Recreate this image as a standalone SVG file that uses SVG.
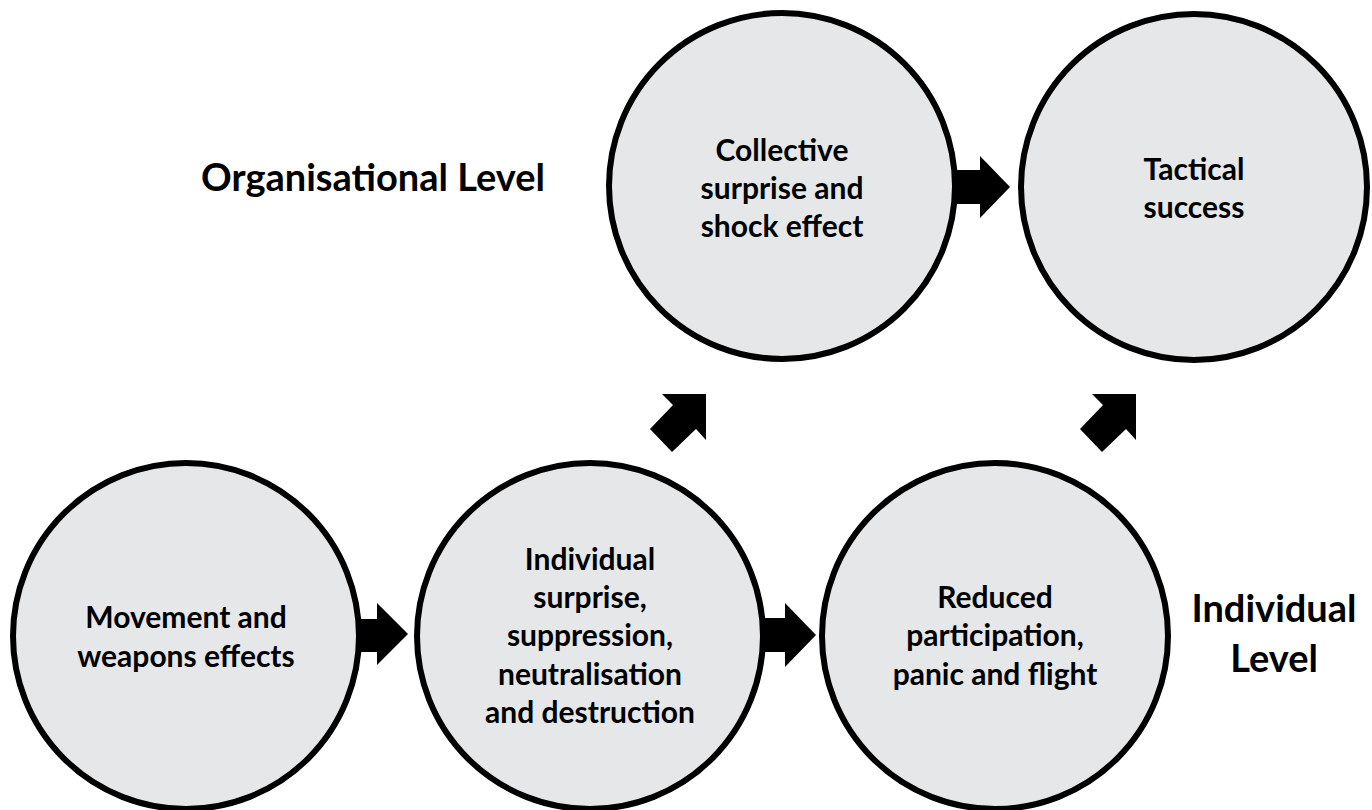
<svg xmlns="http://www.w3.org/2000/svg" width="1372" height="810" viewBox="0 0 1372 810">
  <style>
    .node circle { fill: #e6e7e8; stroke: #000; stroke-width: 6; }
    .node text, .label { font-family: Lato, "Open Sans", "Liberation Sans", sans-serif; font-weight: 700; fill: #000; text-anchor: middle; }
    .node text { font-size: 30px; }
    .label { font-size: 38px; }
    .arrow { fill: #000; }
  </style>
  <rect width="1372" height="810" fill="#fff"/>

  <!-- block arrows between stages -->
  <g id="connectors">
    <polygon class="arrow" points="350,619 377,619 377,603 408,634 377,665 377,652 350,652"/>
    <polygon class="arrow" points="750,618 785,618 785,603 816,635 785,667 785,652 750,652"/>
    <polygon class="arrow" points="950,170 980,170 980,156 1010,187 980,218 980,204 950,204"/>
    <polygon class="arrow" points="706,394 706,440 696,429 672,452 650,429 673,405 662,394"/>
    <polygon class="arrow" points="1136,394 1136,440 1126,429 1102,452 1080,429 1103,405 1092,394"/>
  </g>

  <g id="node-movement" class="node">
    <circle cx="186" cy="636" r="173"/>
    <text x="186" y="628">Movement and</text>
    <text x="186" y="667">weapons effects</text>
  </g>

  <g id="node-individual-effects" class="node">
    <circle cx="590" cy="636" r="173"/>
    <text x="590" y="570">Individual</text>
    <text x="590" y="608">surprise,</text>
    <text x="590" y="646">suppression,</text>
    <text x="590" y="685">neutralisation</text>
    <text x="590" y="723">and destruction</text>
  </g>

  <g id="node-reduced-participation" class="node">
    <circle cx="995" cy="636" r="173"/>
    <text x="995" y="608">Reduced</text>
    <text x="995" y="646">participation,</text>
    <text x="995" y="685">panic and flight</text>
  </g>

  <g id="node-collective-shock" class="node">
    <circle cx="782" cy="186" r="173"/>
    <text x="782" y="161">Collective</text>
    <text x="782" y="199">surprise and</text>
    <text x="782" y="237">shock effect</text>
  </g>

  <g id="node-tactical-success" class="node">
    <circle cx="1194" cy="187" r="173"/>
    <text x="1194" y="180">Tactical</text>
    <text x="1194" y="218">success</text>
  </g>

  <!-- level captions -->
  <g id="levels">
    <text class="label" x="373" y="191">Organisational Level</text>
    <text class="label" x="1274" y="622">Individual</text>
    <text class="label" x="1274" y="672">Level</text>
  </g>
</svg>
